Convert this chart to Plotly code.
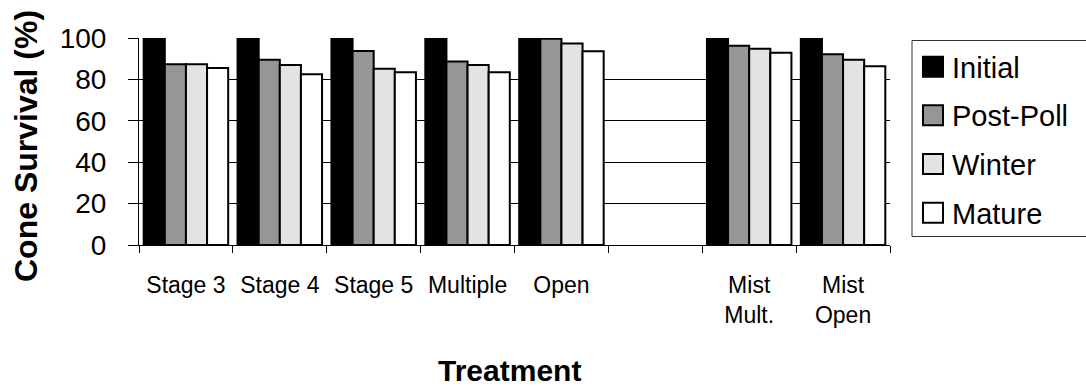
import plotly.graph_objects as go

# ---- data ----
categories = ["Stage 3", "Stage 4", "Stage 5", "Multiple", "Open", " ", "Mist<br>Mult.", "Mist<br>Open"]
initial   = [100, 100, 100, 100, 100, None, 100, 100]
post_poll = [87.3, 89.5, 93.7, 88.7, 99.6, None, 96.3, 92.1]
winter    = [87.3, 87.0, 85.2, 87.0, 97.3, None, 94.8, 89.5]
mature    = [85.5, 82.5, 83.4, 83.4, 93.6, None, 92.9, 86.3]
series_names = ["Initial", "Post-Poll", "Winter", "Mature"]
series_values = [initial, post_poll, winter, mature]
series_colors = ["#000000", "#969696", "#E3E3E3", "#FFFFFF"]
y_ticks = [0, 20, 40, 60, 80, 100]

FONT = "Liberation Sans, Arial, sans-serif"
W, H = 1086, 389
L, R, T, B = 139, 890, 38, 245  # plot area in px


def px2x(px):
    return (px - L) / (R - L)


def px2y(py):
    return (B - py) / (B - T)


fig = go.Figure()
for name, vals, col in zip(series_names, series_values, series_colors):
    fig.add_trace(go.Bar(
        x=categories, y=vals, name=name,
        marker=dict(color=col, line=dict(color="#000000", width=2)),
        showlegend=False,
    ))

fig.update_layout(
    width=W, height=H, autosize=False,
    margin=dict(l=L, r=W - R, t=T, b=H - B, pad=0),
    paper_bgcolor="white", plot_bgcolor="white",
    barmode="group", bargap=0.1, bargroupgap=0,
    font=dict(family=FONT, color="#000000"),
)
fig.update_xaxes(
    type="category", categoryorder="array", categoryarray=categories,
    tickson="boundaries", ticks="outside", ticklen=7, tickwidth=1, tickcolor="#000000",
    showline=True, linecolor="#000000", linewidth=1,
    showgrid=False, tickfont=dict(size=23, family=FONT, color="#000000"),
    ticklabelstandoff=19,
)
fig.update_yaxes(
    range=[0, 100], tickvals=y_ticks, ticks="outside", ticklen=10, tickwidth=1,
    tickcolor="#000000", showline=True, linecolor="#000000", linewidth=1,
    showgrid=True, gridcolor="#000000", gridwidth=1, zeroline=False,
    tickfont=dict(size=28, family=FONT, color="#000000"),
    ticklabelstandoff=16,
)

annotations = [
    dict(text="<b>Cone Survival (%)</b>", x=px2x(26), y=px2y(146), xref="paper", yref="paper",
         textangle=-90, showarrow=False, xanchor="center", yanchor="middle",
         font=dict(size=32, family=FONT, color="#000000")),
    dict(text="<b>Treatment</b>", x=px2x(509), y=px2y(370), xref="paper", yref="paper",
         showarrow=False, xanchor="center", yanchor="middle",
         font=dict(size=30, family=FONT, color="#000000")),
]
shapes = [
    dict(type="rect", xref="paper", yref="paper",
         x0=px2x(912), x1=px2x(1092), y0=px2y(236.5), y1=px2y(40.5),
         line=dict(color="#333333", width=1), fillcolor="white", layer="above"),
]
row_y = [66.7, 115.3, 164, 212.7]
for name, col, ry in zip(series_names, series_colors, row_y):
    shapes.append(dict(type="rect", xref="paper", yref="paper",
                       x0=px2x(923), x1=px2x(943), y0=px2y(ry + 10), y1=px2y(ry - 10),
                       line=dict(color="#000000", width=2), fillcolor=col, layer="above"))
    annotations.append(dict(text=name, x=px2x(950), y=px2y(ry + 1), xref="paper", yref="paper",
                            showarrow=False, xanchor="left", yanchor="middle",
                            font=dict(size=29, family=FONT, color="#000000")))

fig.update_layout(annotations=annotations, shapes=shapes)
fig.write_html(
    "out.html",
    config={"displayModeBar": False},
    post_script="document.body.style.margin='0';document.body.style.overflow='hidden';",
)
